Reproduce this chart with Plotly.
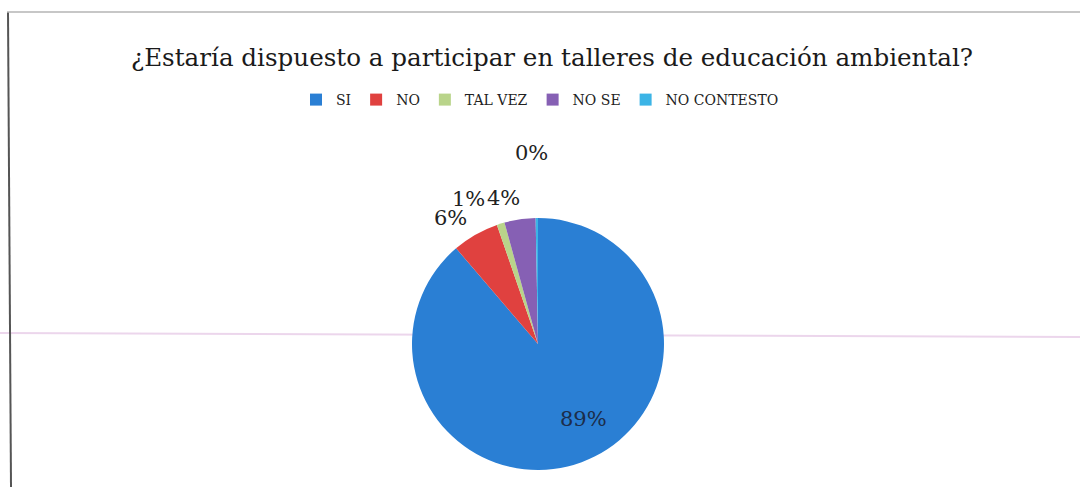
import math
import plotly.graph_objects as go

categories = ["SI", "NO", "TAL VEZ", "NO SE", "NO CONTESTO"]
values = [89, 6, 1, 4, 0.3]
colors = ["#2a7fd4", "#e0413f", "#b9d48a", "#8660b4", "#3cb4e6"]
title_text = "¿Estaría dispuesto a participar en talleres de educación ambiental?"

# style: label placement (radius fraction of pie, pixel nudge) per slice
label_radius = [0.7, 1.0, 1.0, 1.0, 1.0]
label_nudge = [(15, -8), (-25, -17), (-32, -25), (-16, -21), (-5, -65)]

W, H = 1080, 487
cx, cy, r = 538, 344, 126

fig = go.Figure()
fig.add_trace(go.Pie(
    labels=categories,
    values=values,
    sort=False,
    direction="clockwise",
    rotation=0,
    marker=dict(colors=colors, line=dict(color="white", width=0)),
    textinfo="none",
    domain=dict(x=[(cx - r) / W, (cx + r) / W], y=[(H - cy - r) / H, (H - cy + r) / H]),
    showlegend=True,
    hoverinfo="label+percent",
))

# percentage labels derived from the values and the pie geometry
total = sum(values)
cum = 0.0
annotations = []
for i, v in enumerate(values):
    mid = (cum + v / 2) / total
    cum += v
    ang = 2 * math.pi * mid
    px = cx + label_radius[i] * r * math.sin(ang) + label_nudge[i][0]
    py = cy - label_radius[i] * r * math.cos(ang) + label_nudge[i][1]
    annotations.append(dict(
        x=px / W, y=1 - py / H, xref="paper", yref="paper",
        text=f"{round(100 * v / total)}%", showarrow=False,
        xanchor="center", yanchor="middle",
        font=dict(family="DejaVu Serif", size=21,
                  color="#1c2d4a" if i == 0 else "#222222"),
    ))

fig.update_layout(
    width=W, height=H,
    margin=dict(l=0, r=0, t=0, b=0),
    paper_bgcolor="white",
    title=dict(text=title_text, x=552 / W, xanchor="center", y=1 - 57 / H, yanchor="middle",
               font=dict(family="DejaVu Serif", size=24.6, color="#1a1a1a")),
    legend=dict(orientation="h", x=0.5, xanchor="center", y=1 - 100 / H, yanchor="middle",
                font=dict(family="DejaVu Serif", size=14, color="#222222"),
                itemwidth=30, traceorder="normal"),
    annotations=annotations,
    shapes=[
        dict(type="line", xref="paper", yref="paper", x0=0, x1=1, y0=1 - 333 / H, y1=1 - 337 / H,
             line=dict(color="#ecd6ec", width=2), layer="below"),
        dict(type="line", xref="paper", yref="paper", x0=8 / W, x1=11 / W, y0=1 - 12 / H, y1=0,
             line=dict(color="#555555", width=2), layer="above"),
        dict(type="line", xref="paper", yref="paper", x0=7 / W, x1=1, y0=1 - 12 / H, y1=1 - 12 / H,
             line=dict(color="#b5b5b5", width=1.5), layer="above"),
    ],
)

fig.write_html("out.html", config={"displayModeBar": False},
               post_script="document.body.style.margin='0';document.body.style.overflow='hidden';")
